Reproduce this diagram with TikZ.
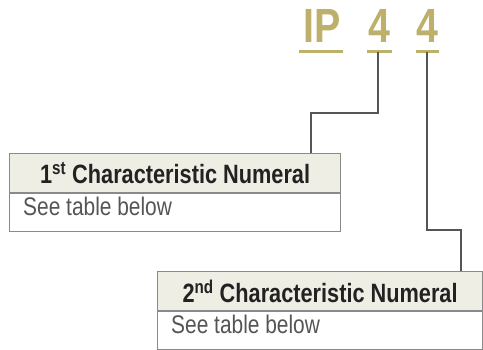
\documentclass[tikz,border=0pt]{standalone}
\usepackage{fontspec}
\setmainfont[FakeStretch=0.82]{Liberation Sans}
\usetikzlibrary{calc}
\definecolor{gold}{HTML}{BDB06A}
\definecolor{hdrfill}{HTML}{EFEEE4}
\definecolor{boxline}{HTML}{8A8A8A}
\definecolor{wire}{HTML}{555555}
\definecolor{bodytxt}{HTML}{555555}
\definecolor{hdrtxt}{HTML}{222222}
\tikzset{
  x=1pt,y=1pt,
  goldtxt/.style={text=gold,font=\fontsize{48}{48}\selectfont\bfseries,inner sep=0pt,anchor=base},
  goldline/.style={draw=gold,line width=3pt},
  hdrbox/.style={draw=boxline,fill=hdrfill,line width=1.2pt,minimum width=331pt,minimum height=39pt,inner sep=0pt,anchor=north west,text=hdrtxt,font=\fontsize{26.5}{26}\selectfont\bfseries},
  bodybox/.style={draw=boxline,fill=white,line width=1.2pt,minimum width=331pt,minimum height=38pt,inner sep=0pt,anchor=north west},
  bodytext/.style={text=bodytxt,font=\fontsize{25.5}{26}\selectfont,inner sep=0pt,anchor=base west},
  wireline/.style={draw=wire,line width=1.5pt}
}
\begin{document}
\begin{tikzpicture}
\useasboundingbox (0,0) rectangle (483,-350);
% top labels
\node[goldtxt] (ip) at (322,-43) {IP};
\node[goldtxt] (f1) at (379,-43) {4};
\node[goldtxt] (f2) at (427.5,-43) {4};
\coordinate (ipl) at (299,-52); \coordinate (ipr) at (343,-52);
\coordinate (u1l) at (367,-52); \coordinate (u1r) at (392,-52);
\coordinate (u2l) at (416,-52); \coordinate (u2r) at (439,-52);
\draw[goldline] (ipl) -- (ipr);
\draw[goldline] (u1l) -- (u1r);
\draw[goldline] (u2l) -- (u2r);
\coordinate (u1) at (378,-52);
\coordinate (u2) at (427,-52);
% box 1
\node[hdrbox] (h1) at (9,-153) {\raisebox{0pt}[0pt][0pt]{}1\textsuperscript{st} Characteristic Numeral};
\node[bodybox] (d1) at (h1.south west) {};
\node[bodytext] (t1) at (23,-216) {See table below};
% box 2
\node[hdrbox,minimum width=325pt] (h2) at (157,-271) {2\textsuperscript{nd} Characteristic Numeral};
\node[bodybox,minimum width=325pt] (d2) at (h2.south west) {};
\node[bodytext] (t2) at (171,-334) {See table below};
% connectors
\coordinate (b1) at (311,-153);
\coordinate (b2) at (461,-271);
\draw[wireline] (u1) -- ($(u1|-0,-113)$) -- ($(b1|-0,-113)$) -- (b1);
\draw[wireline] (u2) -- ($(u2|-0,-230)$) -- ($(b2|-0,-230)$) -- (b2);
\end{tikzpicture}
\end{document}
